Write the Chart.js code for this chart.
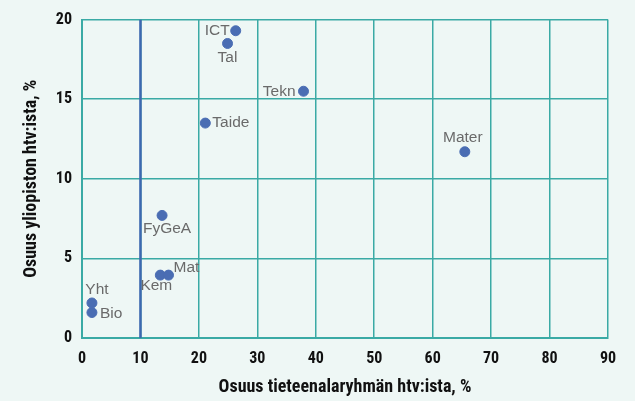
<!DOCTYPE html>
<html>
<head>
<meta charset="utf-8">
<script src="https://cdn.jsdelivr.net/npm/chart.js@4"></script>
<style>
  html, body { margin: 0; padding: 0; background: #eef7f5; }
  #wrap { width: 635px; height: 401px; }
</style>
</head>
<body>
<div id="wrap"><canvas id="scatterChart"></canvas></div>
<script>
var groups = ['ICT', 'Tal', 'Tekn', 'Taide', 'Mater', 'FyGeA', 'Kem', 'Mat', 'Yht', 'Bio'];
var shareOfGroup = [26.3, 24.9, 37.9, 21.1, 65.5, 13.7, 13.4, 14.8, 1.7, 1.7];
var shareOfUniversity = [19.3, 18.5, 15.5, 13.5, 11.7, 7.7, 3.95, 3.95, 2.2, 1.6];
var refLineX = 10;
var xTicks = [0, 10, 20, 30, 40, 50, 60, 70, 80, 90];
var yTicks = [0, 5, 10, 15, 20];

// where each name sits relative to its dot: [align, dx, dy]
var labelPlace = {
    ICT: ['right', -6, 0],
    Tal: ['center', 0, 14],
    Tekn: ['right', -8, 0],
    Taide: ['left', 7, 0],
    Mater: ['center', -2, -14],
    FyGeA: ['center', 5, 13],
    Kem: ['center', -4, 11],
    Mat: ['left', 5, -7],
    Yht: ['center', 5, -13],
    Bio: ['left', 8, 1]
};

var condensed = "'Roboto Condensed', 'Open Sans Condensed', sans-serif";
var gridColor = '#3aaaa5';
var dotColor = '#4a6db3';

var pointLabels = {
    id: 'pointLabels',
    afterDatasetsDraw: function (chart) {
        var ctx = chart.ctx;
        var meta = chart.getDatasetMeta(1);
        ctx.save();
        ctx.font = "15.5px 'Liberation Sans', Arial, sans-serif";
        ctx.fillStyle = '#6a6a6a';
        ctx.textBaseline = 'middle';
        meta.data.forEach(function (pt, i) {
            var p = labelPlace[groups[i]];
            ctx.textAlign = p[0];
            ctx.fillText(groups[i], pt.x + p[1], pt.y + p[2]);
        });
        ctx.restore();
    }
};

var chart = new Chart(document.getElementById('scatterChart'), {
    type: 'scatter',
    data: {
        datasets: [{
            label: 'raja',
            data: [{ x: refLineX, y: 0 }, { x: refLineX, y: 20 }],
            showLine: true,
            borderColor: '#3d68b0',
            borderWidth: 2.5,
            pointRadius: 0
        }, {
            label: 'Tieteenalaryhmät',
            data: groups.map(function (g, i) {
                return { x: shareOfGroup[i], y: shareOfUniversity[i] };
            }),
            backgroundColor: dotColor,
            borderColor: dotColor,
            pointRadius: 5,
            pointHoverRadius: 5
        }]
    },
    options: {
        responsive: true,
        maintainAspectRatio: false,
        animation: false,
        layout: { padding: { top: 16, right: 27, left: 0, bottom: 0 } },
        plugins: {
            legend: { display: false },
            tooltip: { enabled: false }
        },
        scales: {
            x: {
                type: 'linear',
                min: 0,
                max: 90,
                afterBuildTicks: function (s) { s.ticks = xTicks.map(function (v) { return { value: v }; }); },
                afterFit: function (s) { s.height = 63; },
                grid: { color: gridColor, lineWidth: 1.5, drawTicks: false },
                border: { color: gridColor, width: 2 },
                ticks: {
                    padding: 11,
                    color: '#111',
                    font: { family: condensed, weight: 'bold', size: 16 }
                },
                title: {
                    display: true,
                    text: 'Osuus tieteenalaryhmän htv:ista, %',
                    color: '#111',
                    padding: { top: 14, bottom: 3 },
                    font: { family: condensed, weight: 'bold', size: 18 }
                }
            },
            y: {
                type: 'linear',
                min: 0,
                max: 20,
                afterBuildTicks: function (s) { s.ticks = yTicks.map(function (v) { return { value: v }; }); },
                afterFit: function (s) { s.width = 82; },
                grid: { color: gridColor, lineWidth: 1.5, drawTicks: false },
                border: { color: gridColor, width: 2 },
                ticks: {
                    padding: 10,
                    color: '#111',
                    font: { family: condensed, weight: 'bold', size: 16 }
                },
                title: {
                    display: true,
                    text: 'Osuus yliopiston htv:ista, %',
                    color: '#111',
                    padding: { top: 21, bottom: 0 },
                    font: { family: condensed, weight: 'bold', size: 18 }
                }
            }
        }
    },
    plugins: [pointLabels]
});
</script>
</body>
</html>
